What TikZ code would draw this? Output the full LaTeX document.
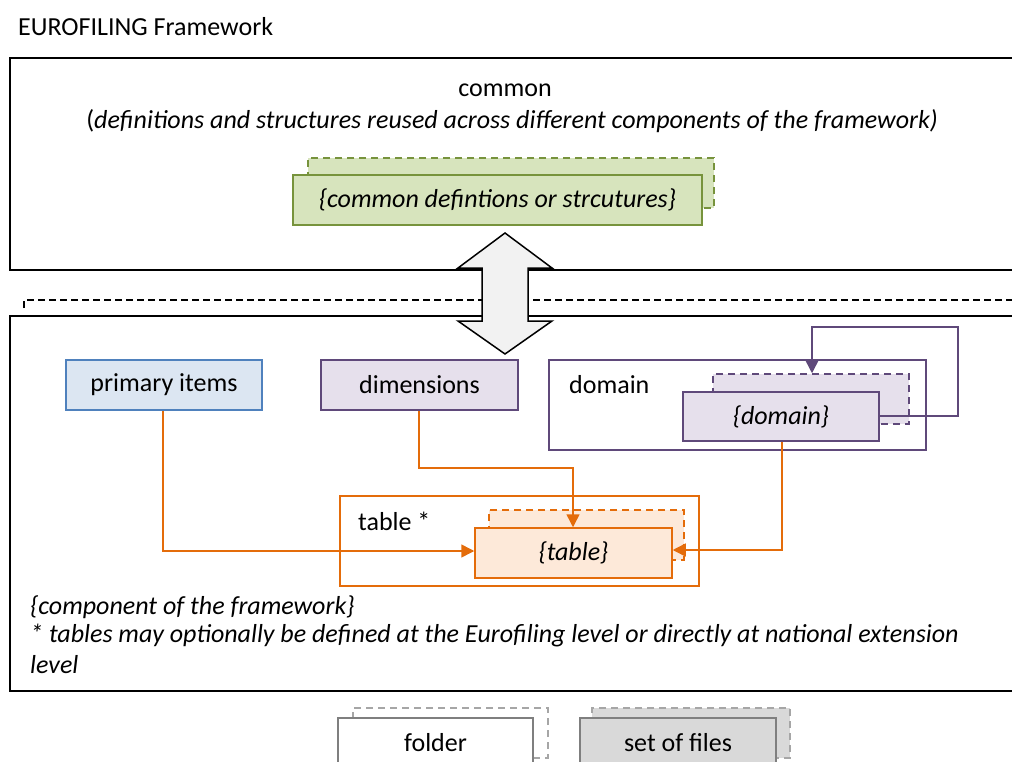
\documentclass[tikz,border=0pt]{standalone}
\usepackage{fontspec}
\setmainfont{Carlito}
\usetikzlibrary{arrows.meta}
\definecolor{gfill}{HTML}{D7E4BD}
\definecolor{gline}{HTML}{77933C}
\definecolor{bfill}{HTML}{DCE6F2}
\definecolor{bline}{HTML}{4F81BD}
\definecolor{pfill}{HTML}{E6E0EC}
\definecolor{pline}{HTML}{5F497A}
\definecolor{ofill}{HTML}{FDE9D9}
\definecolor{oline}{HTML}{E46C0A}
\definecolor{kfill}{HTML}{D9D9D9}
\definecolor{kline}{HTML}{7F7F7F}
\definecolor{kdash}{HTML}{A6A6A6}
\definecolor{afill}{HTML}{F2F2F2}
\tikzset{
  txt/.style={font=\fontsize{26}{30}\selectfont, inner sep=0pt},
  box/.style={draw, line width=1.5pt, inner sep=0pt, font=\fontsize{26}{30}\selectfont},
  backbox/.style={box, dash pattern=on 7pt off 5pt},
  bigframe/.style={draw=black, line width=2pt},
  oarrow/.style={draw=oline, line width=1.5pt, -{Triangle[length=13pt,width=13pt]}},
  parrow/.style={draw=pline, line width=1.5pt, -{Triangle[length=13pt,width=13pt]}},
}
\begin{document}
\begin{tikzpicture}[x=1pt,y=-1pt]
\useasboundingbox (0,0) rectangle (1012,762);
% title
\node[txt, anchor=west] (title) at (18,27) {EUROFILING Framework};
% top frame
\draw[bigframe] (1020,58) -- (10,58) -- (10,270) -- (1020,270);
\node[txt] (common) at (505,90) {common};
\node[txt] (commondesc) at (512,121) {(\textit{definitions and structures reused across different components of the framework)}};
% green boxes
\node[backbox, draw=gline, fill=gfill, minimum width=406pt, minimum height=50pt] (gback) at (511,183) {};
\node[box, draw=gline, fill=gfill, minimum width=409pt, minimum height=50pt] (gfront) at (497.5,200) {\itshape\{common defintions or strcutures\}};
% dashed separator
\draw[line width=1.5pt, dash pattern=on 7pt off 4pt] (24,308) -- (24,300) -- (1020,300);
% lower frame
\draw[bigframe] (1020,316) -- (10,316) -- (10,691) -- (1020,691);
% primary items, dimensions
\node[box, draw=bline, fill=bfill, minimum width=196pt, minimum height=50pt] (prim) at (164,385) {primary items};
\node[box, draw=pline, fill=pfill, minimum width=197pt, minimum height=50pt] (dims) at (419.5,385) {dimensions};
% domain
\node[box, draw=pline, minimum width=377pt, minimum height=90pt] (domframe) at (737.5,405) {};
\node[txt, anchor=west] (domlabel) at (569,385) {domain};
\node[backbox, draw=pline, fill=pfill, minimum width=196pt, minimum height=50pt] (dback) at (811,399) {};
\node[box, draw=pline, fill=pfill, minimum width=196pt, minimum height=49pt] (dfront) at (781,416.5) {\itshape\{domain\}};
\coordinate (l1) at (958,416);
\coordinate (l2) at (958,327);
\coordinate (l3) at (812,327);
\draw[parrow] (dfront.east |- l1) -- (l1) -- (l2) -- (l3) -- (dback.north -| l3);
% table
\node[box, draw=oline, minimum width=359pt, minimum height=90pt] (tframe) at (519.5,541) {};
\node[txt, anchor=west] (tlabel) at (358,521) {table *};
\node[backbox, draw=oline, fill=ofill, minimum width=195pt, minimum height=50pt] (tback) at (586.5,535) {};
\node[box, draw=oline, fill=ofill, minimum width=197pt, minimum height=50pt] (tfront) at (573.5,553) {\itshape\{table\}};
% orange connectors
\coordinate (p1) at (163,551);
\draw[oarrow] (prim.south -| p1) -- (p1) -- (tfront.west |- p1);
\coordinate (d1) at (419,468);
\coordinate (d2) at (573,468);
\draw[oarrow] (dims.south -| d1) -- (d1) -- (d2) -- (tfront.north -| d2);
\coordinate (m1) at (782,550);
\draw[oarrow] (dfront.south -| m1) -- (m1) -- (tfront.east |- m1);
% notes
\node[txt, anchor=west] (note1) at (30,607) {\itshape\{component of the framework\}};
\node[txt, anchor=west] (note2) at (30,636) {\itshape * tables may optionally be defined at the Eurofiling level or directly at national extension};
\node[txt, anchor=west] (note3) at (30,665) {\itshape level};
% legend
\node[backbox, draw=kdash, line width=1.2pt, minimum width=195pt, minimum height=50pt] (fback) at (450.5,733) {};
\node[box, draw=kline, line width=1.2pt, fill=white, minimum width=195pt, minimum height=50pt] (ffront) at (435.5,743) {folder};
\node[backbox, draw=kdash, fill=kfill, line width=1.2pt, minimum width=198pt, minimum height=50pt] (sback) at (691,733) {};
\node[box, draw=kline, fill=kfill, line width=1.2pt, minimum width=196pt, minimum height=50pt] (sfront) at (678,743) {set of files};
% double arrow
\draw[line width=1.5pt, fill=afill, line join=miter]
  (505,233) -- (552,268) -- (528,268) -- (528,321) -- (552,321) -- (505,354)
  -- (458,321) -- (482,321) -- (482,268) -- (458,268) -- cycle;
\end{tikzpicture}
\end{document}
